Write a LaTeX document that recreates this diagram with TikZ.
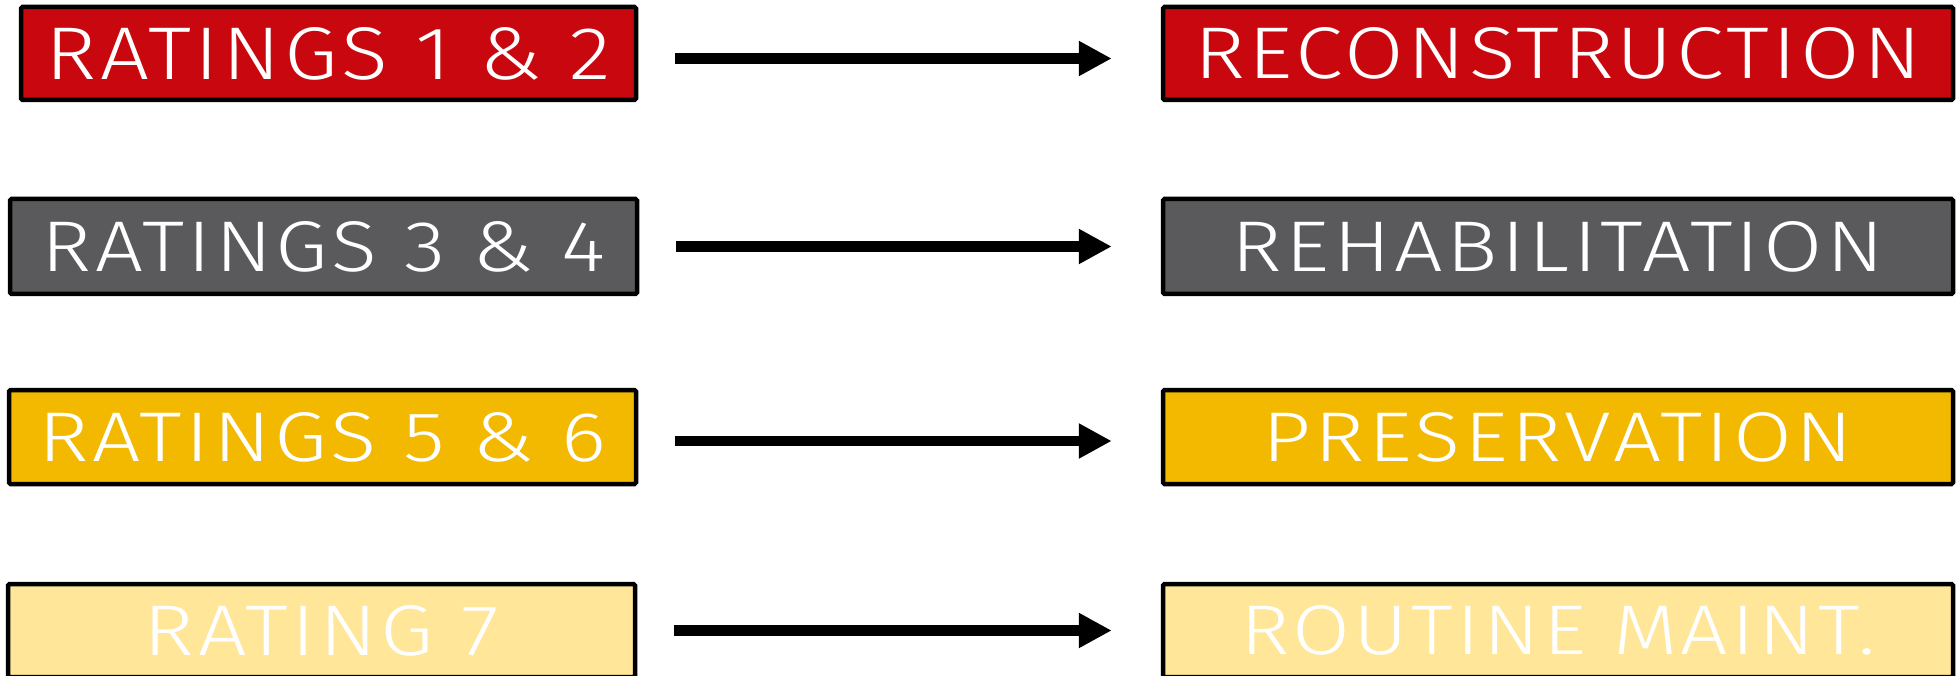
\documentclass[tikz,border=0pt]{standalone}
\usepackage{fontspec}
\setmainfont{Fira Sans Light}[LetterSpace=4]
\usetikzlibrary{arrows.meta}

\definecolor{ratred}{HTML}{C8080E}
\definecolor{ratgray}{HTML}{5A5A5C}
\definecolor{ratgold}{HTML}{F2B900}
\definecolor{ratpale}{HTML}{FFE699}

% label scaled to a given width and cap height (in pt)
\newcommand\fitlabel[3]{\resizebox{#1pt}{#2pt}{#3}}

\tikzset{
  box/.style={draw=black, line width=4.5pt, rounded corners=1.5pt, inner sep=0pt,
    text=white, font=\fontsize{72}{72}\selectfont},
  leftbox/.style={box, minimum width=627pt, minimum height=94pt},
  rightbox/.style={box, minimum width=790pt, minimum height=94pt},
  arr/.style={line width=10.7pt, -{Triangle[length=33pt,width=33pt]},
    shorten <=37pt, shorten >=49pt},
}

\begin{document}
\begin{tikzpicture}[x=1pt,y=-1pt]
\useasboundingbox (0,0) rectangle (1959,676);

% ratings
\node[leftbox, fill=ratred, minimum width=615pt, minimum height=93pt] (l1) at (328.5,53.5)
  {\fitlabel{565}{52}{RATINGS 1 \& 2}};
\node[leftbox, fill=ratgray, minimum height=95pt] (l2) at (323.5,246.5)
  {\fitlabel{563}{50}{RATINGS 3 \& 4}};
\node[leftbox, fill=ratgold] (l3) at (322.5,437)
  {\fitlabel{568}{49}{RATINGS 5 \& 6}};
\node[leftbox, fill=ratpale, minimum height=93pt] (l4) at (321.5,630.5)
  {\fitlabel{355}{50}{RATING 7}};

% treatments
\node[rightbox, fill=ratred, minimum height=93pt] (r1) at (1558,53.5)
  {\fitlabel{727}{51}{RECONSTRUCTION}};
\node[rightbox, fill=ratgray, minimum height=95pt] (r2) at (1558,246.5)
  {\fitlabel{652}{50}{REHABILITATION}};
\node[rightbox, fill=ratgold] (r3) at (1558,437)
  {\fitlabel{590}{49}{PRESERVATION}};
\node[rightbox, fill=ratpale, minimum height=93pt] (r4) at (1558,630.5)
  {\fitlabel{635}{49}{ROUTINE MAINT.}};

% rating -> treatment
\draw[arr] ([yshift=-5pt]l1.east) -- ([yshift=-5pt]r1.west);
\draw[arr] (l2.east) -- (r2.west);
\draw[arr] ([yshift=-4pt]l3.east) -- ([yshift=-4pt]r3.west);
\draw[arr] (l4.east) -- (r4.west);
\end{tikzpicture}
\end{document}
